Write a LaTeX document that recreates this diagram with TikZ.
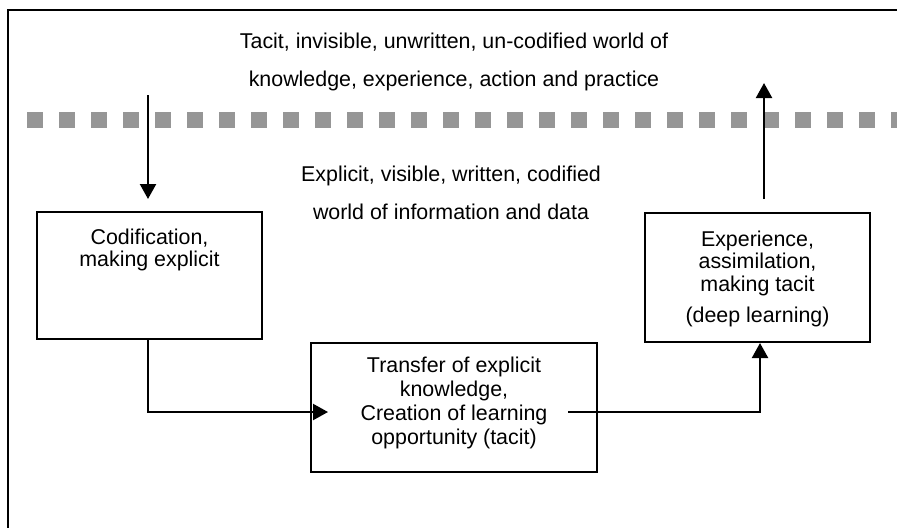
\documentclass[tikz,border=0pt]{standalone}
\usepackage{fontspec}
\setmainfont{Liberation Sans}
\usetikzlibrary{arrows.meta}
\definecolor{dotgray}{RGB}{150,150,150}
\begin{document}
\begin{tikzpicture}[x=0.5pt,y=-0.5pt,
  box/.style={draw=black, line width=1pt, rectangle, inner sep=0pt},
  txt/.style={align=center, inner sep=0pt, anchor=base},
  arr/.style={line width=1.1pt, -{Triangle[width=8pt,length=7.5pt]}}]
\useasboundingbox (0,0) rectangle (897,527);
\clip (0,0) rectangle (897,527);
% outer frame (continues beyond the picture on the right and bottom)
\draw[line width=1pt] (8,10) rectangle (930,570);
% dotted boundary between tacit and explicit worlds
\draw[dotgray, line width=8pt, dash pattern=on 8pt off 8pt] (27,120) -- (920,120);
% boxes
\node[box, minimum width=112.5pt, minimum height=63.5pt] (codi) at (149.5,275.5) {};
\node[box, minimum width=143pt, minimum height=64.5pt] (trans) at (454,407.5) {};
\node[box, minimum width=112.5pt, minimum height=64.5pt] (exp) at (757.5,277.5) {};
% texts (anchor base = baseline of the last line)
\node[txt, font=\fontsize{10.7pt}{19pt}\selectfont] (tacit) at (454,86)
  {Tacit, invisible, unwritten, un-codified world of\\knowledge, experience, action and practice};
\node[txt, font=\fontsize{10.7pt}{19pt}\selectfont] (expl) at (451,219)
  {Explicit, visible, written, codified\\world of information and data};
\node[txt, font=\fontsize{10.7pt}{11pt}\selectfont] (coditext) at (149.5,266)
  {Codification,\\making explicit};
\node[txt, font=\fontsize{10.7pt}{12pt}\selectfont] (transtext) at (454,444)
  {Transfer of explicit\\knowledge,\\Creation of learning\\opportunity (tacit)};
\node[txt, font=\fontsize{10.7pt}{11.25pt}\selectfont] (exptext) at (757.5,322)
  {Experience,\\assimilation,\\making tacit\\[4.25pt](deep learning)};
% connectors
\coordinate (dstart) at (148,95);
\coordinate (upt) at (764,83);
\draw[arr] (dstart) -- ([xshift=-0.75pt,yshift=6pt]codi.north);
\draw[arr] ([xshift=-0.75pt]codi.south) |- ([xshift=9pt,yshift=-2.25pt]trans.west);
\draw[arr] ([xshift=-15pt,yshift=-2.25pt]trans.east) -| ([xshift=1.25pt]exp.south);
\draw[arr] ([xshift=3.25pt,yshift=6.5pt]exp.north) -- (upt);
\end{tikzpicture}
\end{document}
